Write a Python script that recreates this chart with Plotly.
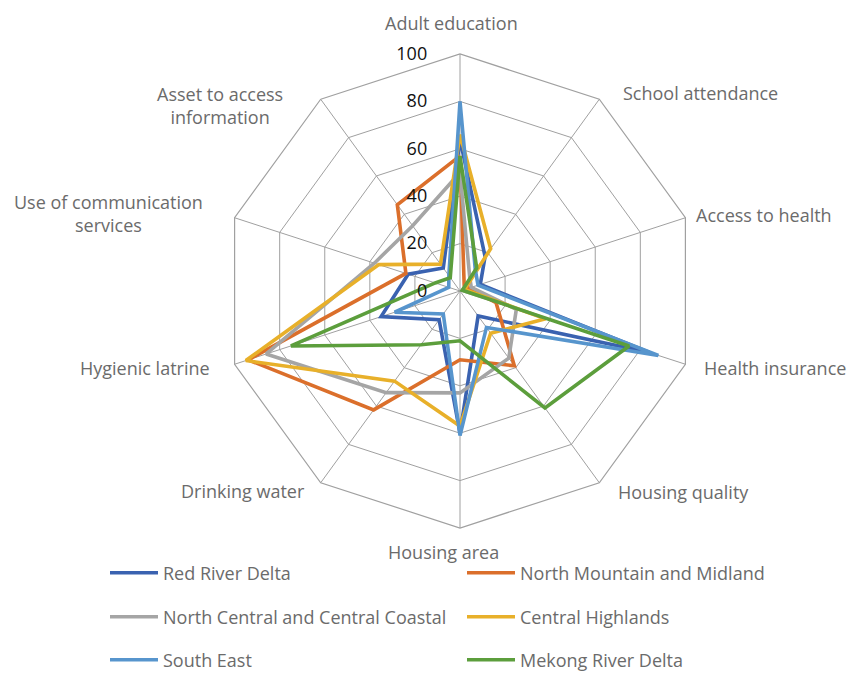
import plotly.graph_objects as go

# Dimensions of multidimensional poverty, clockwise from the top
categories = [
    "Adult education", "School attendance", "Access to health", "Health insurance",
    "Housing quality", "Housing area", "Drinking water", "Hygienic latrine",
    "Use of communication services", "Asset to access information",
]
# Wrapped versions of the category names used for the outer labels
category_labels = [
    "Adult education", "School attendance", "Access to health", "Health insurance",
    "Housing quality", "Housing area", "Drinking water", "Hygienic latrine",
    "Use of communication<br>services", "Asset to access<br>information",
]

red_river_delta = [64, 18, 9, 84, 13, 60, 15, 35, 23, 12]
north_mountain_midland = [57, 3, 4, 16, 39, 29, 62, 94, 24, 45]
north_central_coastal = [50, 7, 5, 25, 35, 43, 53, 86, 38, 34]
central_highlands = [66, 22, 2, 38, 22, 57, 47, 95, 36, 14]
south_east = [80, 11, 8, 88, 19, 61, 12, 29, 5, 8]
mekong_river_delta = [57, 12, 1, 75, 61, 21, 28, 75, 11, 7]

region_names = [
    "Red River Delta", "North Mountain and Midland",
    "North Central and Central Coastal", "Central Highlands",
    "South East", "Mekong River Delta",
]
region_values = [
    red_river_delta, north_mountain_midland, north_central_coastal,
    central_highlands, south_east, mekong_river_delta,
]
region_colors = ["#3a62b0", "#db6f2b", "#a5a5a5", "#e8b02a", "#5795cd", "#5c9e3c"]
# one legend per row, two entries each
region_legends = ["legend", "legend", "legend2", "legend2", "legend3", "legend3"]

radial_ticks = [0, 20, 40, 60, 80, 100]

W, H = 848, 673
cx, cy, R = 460, 291, 237
LABEL_FONT = "Open Sans, sans-serif"
TEXT_GREY = "#6b6b6b"

fig = go.Figure()
for name, vals, color, lg in zip(region_names, region_values, region_colors, region_legends):
    fig.add_trace(go.Scatterpolar(
        r=vals + vals[:1],
        theta=categories + categories[:1],
        mode="lines",
        name=name,
        line=dict(color=color, width=3.6),
        legend=lg,
    ))

grid_col = "#a0a0a0"
fig.update_layout(
    width=W, height=H,
    margin=dict(l=0, r=0, t=0, b=0, autoexpand=False),
    paper_bgcolor="white",
    plot_bgcolor="white",
    font=dict(family=LABEL_FONT, size=18, color=TEXT_GREY),
    polar=dict(
        domain=dict(x=[(cx - R) / W, (cx + R) / W],
                    y=[1 - (cy + R) / H, 1 - (cy - R) / H]),
        bgcolor="white",
        gridshape="linear",
        angularaxis=dict(
            direction="clockwise", rotation=90,
            showticklabels=False, ticks="",
            showgrid=True, gridcolor=grid_col, gridwidth=1.2,
            showline=True, linecolor=grid_col, linewidth=1.2,
        ),
        radialaxis=dict(
            range=[0, 100], tickvals=radial_ticks,
            angle=90, side="counterclockwise",
            showline=False, showgrid=True, gridcolor=grid_col, gridwidth=1.2,
            ticks="outside", ticklen=26, tickcolor="rgba(0,0,0,0)",
            tickfont=dict(size=18, color="#111111"),
            tickangle=90,
        ),
    ),
)

# Outer category labels (pixel centres converted to paper coordinates)
label_pos = [
    (451, 23), (700, 93), (764, 215), (775, 368), (683, 492),
    (443, 552), (243, 491), (145, 368), (108, 213), (220, 105),
]
for text, (px, py) in zip(category_labels, label_pos):
    fig.add_annotation(
        x=px / W, y=1 - py / H, xref="paper", yref="paper",
        text=text, showarrow=False, xanchor="center", yanchor="middle",
        align="center", font=dict(size=18, color=TEXT_GREY),
    )

legend_common = dict(
    orientation="h", xanchor="left", yanchor="middle",
    entrywidth=294, entrywidthmode="pixels",
    font=dict(size=18, color=TEXT_GREY), itemwidth=48,
    bgcolor="rgba(0,0,0,0)",
)
fig.update_layout(
    legend=dict(x=105 / W, y=1 - 573 / H, **legend_common),
    legend2=dict(x=105 / W, y=1 - 617 / H, **legend_common),
    legend3=dict(x=105 / W, y=1 - 660 / H, **legend_common),
)

fig.write_html("out.html")
